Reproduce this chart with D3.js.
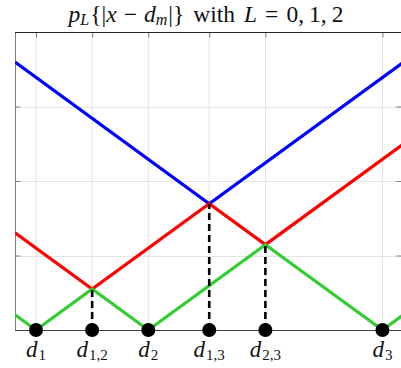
<!DOCTYPE html>
<html>
<head>
<meta charset="utf-8">
<script src="https://cdn.jsdelivr.net/npm/d3@7"></script>
<style>
  body { margin: 0; background: #fff; }
  svg { display: block; }
  text { font-family: "Liberation Serif", "DejaVu Serif", serif; fill: #111; }
</style>
</head>
<body>
<div id="chart"></div>
<script>
// Points on the line and the midpoints between them
var points = [1, 3, 7.17];
var pointLabels = [["d", "1"], ["d", "2"], ["d", "3"]];
var mids = [2, 4.085, 5.085];
var midLabels = [["d", "1,2"], ["d", "1,3"], ["d", "2,3"]];
var midHeights = [1, 3.085, 2.085];

// Breakpoints of each curve p_L (x and y)
var xMin = 0.626, xMax = 7.518;
var p0x = [xMin, 1, 2, 3, 5.085, 7.17, xMax];
var p0y = [0.374, 0, 1, 0, 2.085, 0, 0.348];
var p1x = [xMin, 2, 4.085, 5.085, xMax];
var p1y = [2.374, 1, 3.085, 2.085, 4.518];
var p2x = [xMin, 4.085, xMax];
var p2y = [6.544, 3.085, 6.518];

var yMax = 7.28;
var yTicks = [1.82, 3.64, 5.46];

function init() {
    var w = 401, h = 368;
    var left = 15, right = 402, top = 32, bottom = 330;

    var xScale = d3.scaleLinear().domain([xMin, xMax]).range([left, right]);
    var yScale = d3.scaleLinear().domain([0, yMax]).range([bottom, top]);

    var svg = d3.select("#chart").append("svg")
        .attr("width", w).attr("height", h);

    svg.append("defs").append("clipPath").attr("id", "clip")
        .append("rect")
        .attr("x", left).attr("y", top)
        .attr("width", right - left).attr("height", bottom - top);

    var xTicks = points.concat(mids).sort(d3.ascending);

    // grid
    svg.append("g").selectAll("line.gx").data(xTicks).enter().append("line")
        .attr("x1", d => xScale(d)).attr("x2", d => xScale(d))
        .attr("y1", top).attr("y2", bottom)
        .attr("stroke", "#e3e3e3").attr("stroke-width", 1);
    svg.append("g").selectAll("line.gy").data(yTicks).enter().append("line")
        .attr("x1", left).attr("x2", right)
        .attr("y1", d => Math.round(yScale(d)) + 0.5).attr("y2", d => Math.round(yScale(d)) + 0.5)
        .attr("stroke", "#e3e3e3").attr("stroke-width", 1);

    // axes (ticks inward, no labels)
    svg.append("g").attr("transform", "translate(" + (left + 0.5) + ",0)")
        .call(d3.axisRight(yScale).tickValues(yTicks).tickSize(5).tickFormat(""))
        .call(g => g.select(".domain").remove())
        .selectAll("line").attr("stroke", "#808080");
    svg.append("g").attr("transform", "translate(" + (right - 0.5) + ",0)")
        .call(d3.axisLeft(yScale).tickValues(yTicks).tickSize(5).tickFormat(""))
        .call(g => g.select(".domain").remove())
        .selectAll("line").attr("stroke", "#808080");
    svg.append("g").attr("transform", "translate(0," + (top + 0.5) + ")")
        .call(d3.axisBottom(xScale).tickValues(xTicks).tickSize(5).tickFormat(""))
        .call(g => g.select(".domain").remove())
        .selectAll("line").attr("stroke", "#808080");

    svg.append("line").attr("x1", left + 0.5).attr("x2", left + 0.5)
        .attr("y1", top).attr("y2", bottom).attr("stroke", "#808080");
    svg.append("line").attr("x1", left).attr("x2", right)
        .attr("y1", top + 0.5).attr("y2", top + 0.5).attr("stroke", "#262626");
    svg.append("line").attr("x1", left).attr("x2", right)
        .attr("y1", bottom + 0.5).attr("y2", bottom + 0.5).attr("stroke", "#404040");

    // curves
    var curves = [
        { xs: p2x, ys: p2y, color: "#0000ff" },
        { xs: p1x, ys: p1y, color: "#ff0000" },
        { xs: p0x, ys: p0y, color: "#33cc33" }
    ];
    var line = d3.line().x(d => xScale(d[0])).y(d => yScale(d[1]));
    svg.append("g").attr("clip-path", "url(#clip)")
        .selectAll("path").data(curves).enter().append("path")
        .attr("d", c => line(d3.zip(c.xs, c.ys)))
        .attr("fill", "none")
        .attr("stroke", c => c.color)
        .attr("stroke-width", 3.2)
        .attr("stroke-linejoin", "miter");

    // dashed verticals at midpoints
    svg.append("g").selectAll("line").data(d3.zip(mids, midHeights)).enter().append("line")
        .attr("x1", d => xScale(d[0])).attr("x2", d => xScale(d[0]))
        .attr("y1", yScale(0)).attr("y2", d => yScale(d[1]))
        .attr("stroke", "#000").attr("stroke-width", 2.6)
        .attr("stroke-dasharray", "7,4");

    // dots
    svg.append("g").selectAll("circle").data(xTicks).enter().append("circle")
        .attr("cx", d => xScale(d)).attr("cy", bottom)
        .attr("r", 7).attr("fill", "#000");

    // labels
    var labels = d3.zip(points, pointLabels).concat(d3.zip(mids, midLabels));
    var lt = svg.append("g").selectAll("text").data(labels).enter().append("text")
        .attr("x", d => xScale(d[0])).attr("y", 357)
        .attr("text-anchor", "middle");
    lt.append("tspan").attr("font-style", "italic").attr("font-size", 23).text(d => d[1][0]);
    lt.append("tspan").attr("font-size", 15).attr("dy", 3).attr("dx", 1).text(d => d[1][1]);

    // title
    var t = svg.append("text").attr("x", 206).attr("y", 22)
        .attr("text-anchor", "middle").attr("font-size", 23.5);
    t.append("tspan").attr("font-style", "italic").text("p");
    t.append("tspan").attr("font-style", "italic").attr("font-size", 16).attr("dy", 3).text("L");
    t.append("tspan").attr("dy", -3).attr("dx", 1).text("{|");
    t.append("tspan").attr("font-style", "italic").text("x");
    t.append("tspan").attr("dx", 7).text("\u2212");
    t.append("tspan").attr("dx", 7).attr("font-style", "italic").text("d");
    t.append("tspan").attr("font-style", "italic").attr("font-size", 16).attr("dy", 3).text("m");
    t.append("tspan").attr("dy", -3).attr("dx", 1).text("|}");
    t.append("tspan").attr("dx", 9).text("with");
    t.append("tspan").attr("dx", 9).attr("font-style", "italic").text("L");
    t.append("tspan").attr("dx", 8).text("=");
    t.append("tspan").attr("dx", 8).text("0,");
    t.append("tspan").attr("dx", 5).text("1,");
    t.append("tspan").attr("dx", 5).text("2");
}

window.onload = init;
</script>
</body>
</html>
